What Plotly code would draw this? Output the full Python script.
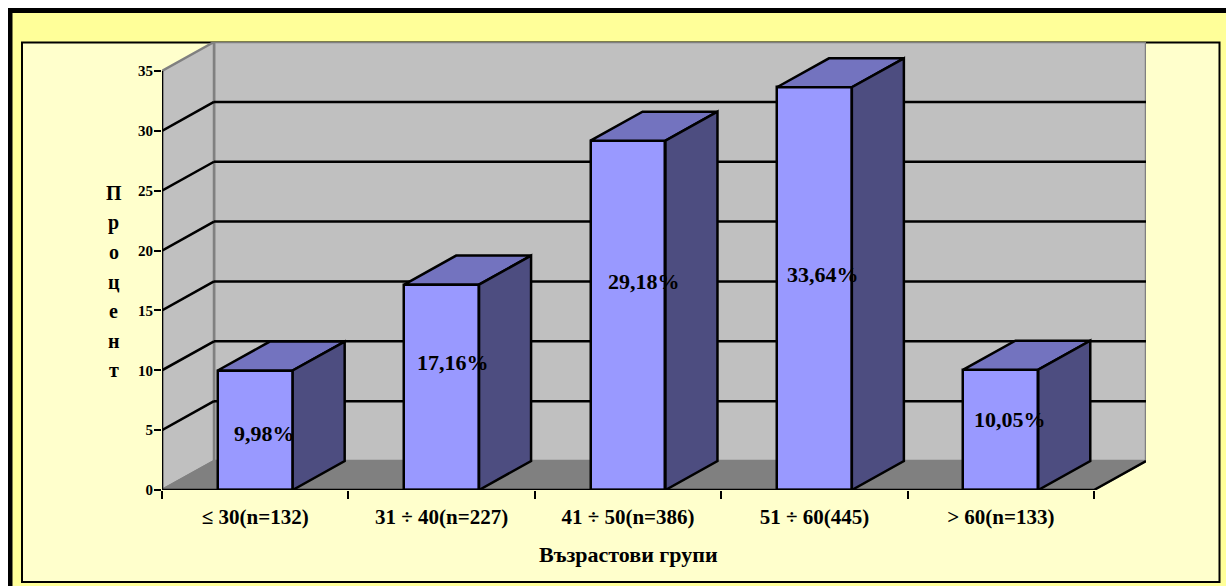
import plotly.graph_objects as go

categories = ["≤ 30(n=132)", "31 ÷ 40(n=227)", "41 ÷ 50(n=386)", "51 ÷ 60(445)", "> 60(n=133)"]
values = [9.98, 17.16, 29.18, 33.64, 10.05]
labels = ["9,98%", "17,16%", "29,18%", "33,64%", "10,05%"]
y_ticks = [0, 5, 10, 15, 20, 25, 30, 35]
y_title_letters = ["П", "р", "о", "ц", "е", "н", "т"]
x_title = "Възрастови групи"

# label placement relative to the bar centre (layout tweak)
label_dx = [0.05, 0.06, 0.085, 0.045, 0.05]
label_y = [4.75, 10.65, 17.45, 18.0, 5.85]

W, H = 1226, 586
L, R, T, B = 162, 1146, 42, 490
DX, DY = 0.279, 2.42
X0, X1 = -0.5, 4.5
YMAX = 35
BAR_W = 0.402
FONT = "Liberation Serif"
LW = 2.5

def px(v):
    return (v - L) / (R - L)
def py(v):
    return (B - v) / (B - T)

fig = go.Figure()

shapes = []
# page frame
def rect(x0, y0, x1, y1, fill, line=None, lw=0):
    shapes.append(dict(type="rect", xref="paper", yref="paper", layer="below",
                       x0=px(x0), y0=py(y0), x1=px(x1), y1=py(y1), fillcolor=fill,
                       line=dict(color=line or fill, width=lw)))
rect(8, 8, W + 5, H + 5, "#000000")
rect(12.5, 13, W + 5, H + 5, "#FFFF99")
rect(0, -5, 8, H + 5, "#FFFFFF")
rect(0, -5, W + 5, 8, "#FFFFFF")
rect(22, 42.5, 1219.5, 582, "#FFFFCC", "#000000", 2)

def poly(xs, ys, fill, line, lw=2):
    path = "M " + " L ".join(f"{x},{y}" for x, y in zip(xs, ys)) + " Z"
    shapes.append(dict(type="path", xref="x", yref="y", layer="below", path=path,
                       fillcolor=fill, line=dict(color=line, width=lw)))
# walls and floor
poly([X0 + DX, X1 + DX, X1 + DX, X0 + DX], [DY, DY, YMAX + DY, YMAX + DY], "#C0C0C0", "#808080", 2.5)
poly([X0, X0 + DX, X0 + DX, X0], [0, DY, YMAX + DY, YMAX], "#C0C0C0", "#808080", 2.5)
poly([X0, X1, X1 + DX, X0 + DX], [0, 0, DY, DY], "#808080", "#808080")
# gridlines on the walls
for t in y_ticks[1:-1]:
    shapes.append(dict(type="line", xref="x", yref="y", layer="below", x0=X0, y0=t, x1=X0 + DX, y1=t + DY,
                       line=dict(color="#000000", width=LW)))
    shapes.append(dict(type="line", xref="x", yref="y", layer="below", x0=X0 + DX, y0=t + DY, x1=X1 + DX, y1=t + DY,
                       line=dict(color="#000000", width=LW)))

xs = list(range(len(categories)))
fig.add_trace(go.Bar(x=xs, y=values, width=BAR_W, marker=dict(color="#9999FF", line=dict(color="#000000", width=LW)),
                     cliponaxis=False, showlegend=False, hoverinfo="skip"))

for x, v in zip(xs, values):
    a, b = x - BAR_W / 2, x + BAR_W / 2
    fig.add_trace(go.Scatter(x=[a, b, b + DX, a + DX, a], y=[v, v, v + DY, v + DY, v], mode="lines", fill="toself",
                             fillcolor="#7373BF", line=dict(color="#000000", width=LW),
                             cliponaxis=False, showlegend=False, hoverinfo="skip"))
    fig.add_trace(go.Scatter(x=[b, b + DX, b + DX, b, b], y=[0, DY, v + DY, v, 0], mode="lines", fill="toself",
                             fillcolor="#4D4D80", line=dict(color="#000000", width=LW),
                             cliponaxis=False, showlegend=False, hoverinfo="skip"))

# front axis edges
fig.add_trace(go.Scatter(x=[X0, X0, X1, X1 + DX], y=[YMAX, 0, 0, DY], mode="lines",
                         line=dict(color="#000000", width=LW), cliponaxis=False,
                         showlegend=False, hoverinfo="skip"))

annotations = []
for x, text, dx, y in zip(xs, labels, label_dx, label_y):
    annotations.append(dict(x=x + dx, y=y, xref="x", yref="y", text=f"<b>{text}</b>", showarrow=False,
                            xanchor="center", yanchor="middle",
                            font=dict(family=FONT, size=22, color="#000000")))
for i, ch in enumerate(y_title_letters):
    annotations.append(dict(x=px(113.5), y=py(193 + i * 29.5), xref="paper", yref="paper", text=f"<b>{ch}</b>",
                            showarrow=False, xanchor="center", yanchor="middle",
                            font=dict(family=FONT, size=20, color="#000000")))
annotations.append(dict(x=px(628), y=py(554), xref="paper", yref="paper", text=f"<b>{x_title}</b>",
                        showarrow=False, xanchor="center", yanchor="middle",
                        font=dict(family=FONT, size=22, color="#000000")))

fig.update_layout(
    width=W, height=H, margin=dict(l=L, r=W - R, t=T, b=H - B, pad=0, autoexpand=False),
    paper_bgcolor="#FFFF99", plot_bgcolor="rgba(0,0,0,0)", showlegend=False,
    shapes=shapes, annotations=annotations, bargap=0,
    xaxis=dict(range=[X0, X1 + DX], tickmode="array", tickvals=xs,
               ticktext=[f"<b>{c}</b>" for c in categories], ticks="", showgrid=False, zeroline=False,
               showline=False, tickfont=dict(family=FONT, size=21, color="#000000"),
               ticklabelstandoff=12,
               minor=dict(ticks="outside", ticklen=8, tickwidth=2, tickcolor="#000000", tick0=-0.5, dtick=1, showgrid=False)),
    yaxis=dict(range=[0, (B - T) / ((B - 71) / YMAX)], tickmode="array", tickvals=y_ticks,
               ticktext=[f"<b>{t}</b>" for t in y_ticks], ticks="outside", ticklen=7, tickwidth=2, tickcolor="#000000",
               showgrid=False, zeroline=False, showline=False, ticklabelstandoff=-2,
               tickfont=dict(family=FONT, size=15, color="#000000")),
)

fig.write_html("out.html", config=dict(displayModeBar=False),
               post_script="document.body.style.margin='0';document.documentElement.style.overflow='hidden';")
